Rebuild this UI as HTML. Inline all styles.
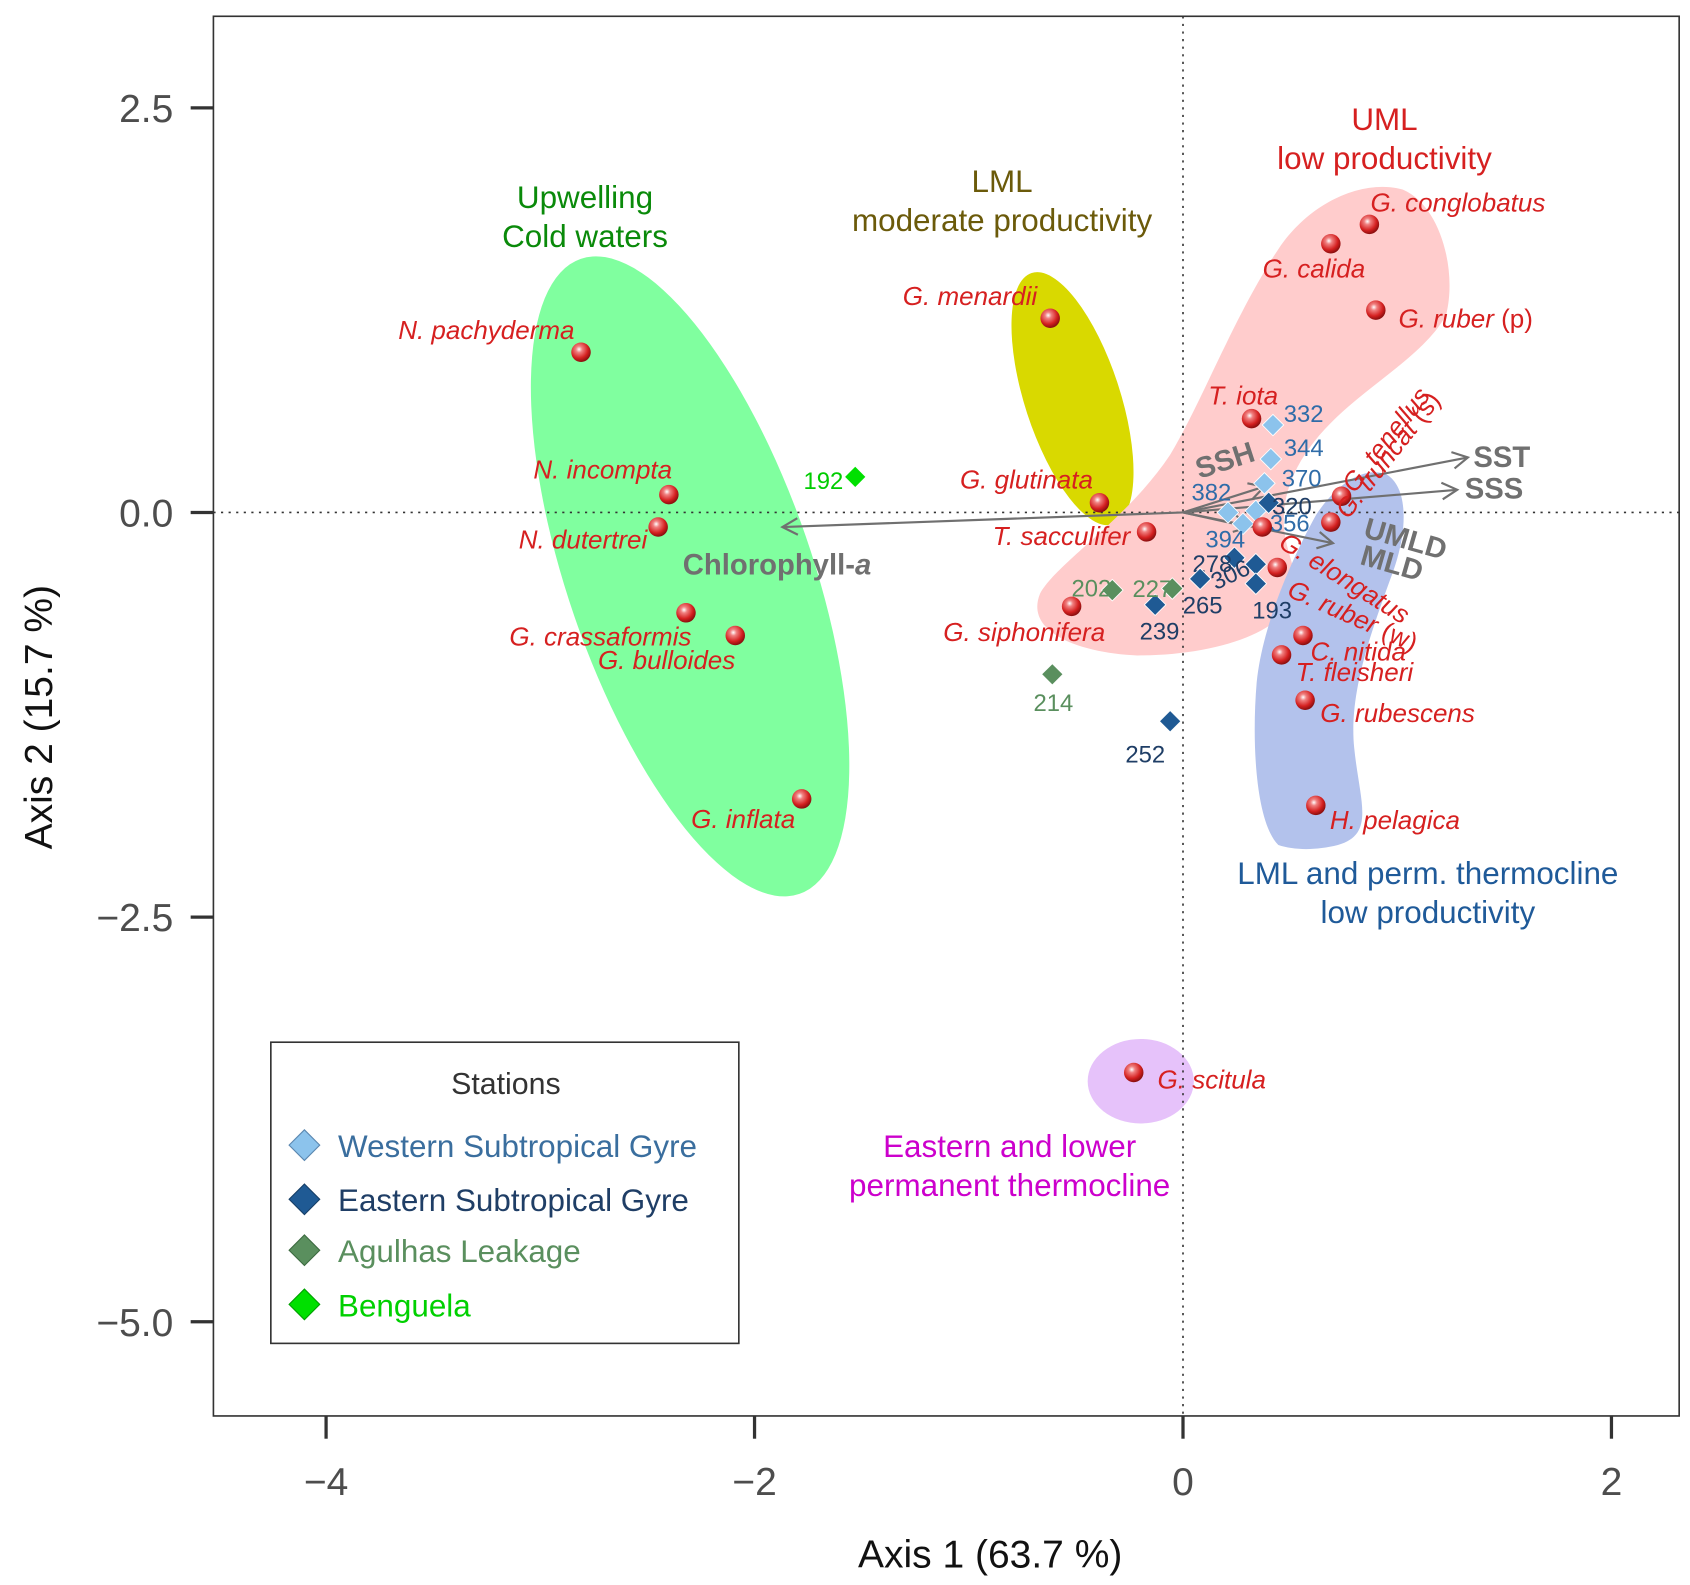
<!DOCTYPE html>
<html><head><meta charset="utf-8"><style>
html,body{margin:0;padding:0;background:#fff}
svg{display:block;font-family:"Liberation Sans",sans-serif}
</style></head><body>
<svg id="chart" width="1690" height="1585" viewBox="0 0 1560 1463" xmlns="http://www.w3.org/2000/svg">
<defs>
<radialGradient id="sph" cx="0.4" cy="0.35" r="0.65">
<stop offset="0" stop-color="#ffffff"/><stop offset="0.25" stop-color="#f08080"/><stop offset="0.7" stop-color="#d42020"/><stop offset="1" stop-color="#8a0f0f"/>
</radialGradient>
</defs>
<g id="regions">
<ellipse cx="637" cy="532" rx="113" ry="310" transform="rotate(-19 637 532)" fill="#80ff9f"/>
<ellipse cx="990" cy="368" rx="44" ry="122" transform="rotate(-18 990 368)" fill="#d9d900"/>
<ellipse cx="1053" cy="998" rx="49" ry="39" fill="#e6c2fa"/>
<path fill="#ffcccc" d="M960,548 C975,520 1040,480 1080,420 C1110,370 1140,290 1180,230 C1210,185 1260,165 1295,175 C1330,190 1345,250 1335,290 C1320,320 1280,345 1245,375 C1210,405 1185,440 1185,480 C1185,515 1205,530 1190,560 C1170,590 1110,605 1050,605 C1000,603 945,585 960,548 Z"/>
<path fill="#b3c2ec" d="M1180,780 C1160,760 1155,690 1160,630 C1165,580 1190,520 1215,475 C1235,445 1260,430 1280,438 C1300,450 1300,490 1285,530 C1265,585 1245,640 1250,690 C1255,740 1270,770 1235,780 C1215,785 1195,785 1180,780 Z"/>
</g>
<rect x="197" y="15" width="1353" height="1292" fill="none" stroke="#333" stroke-width="1.5"/>
<g id="axes"></g>
<g id="arrows"></g>
<g id="stations"></g>
<g id="species"></g>
<g font-size="29" text-anchor="middle">
<text x="540" y="192" fill="#0a8a0a">Upwelling</text>
<text x="540" y="228" fill="#0a8a0a">Cold waters</text>
<text x="925" y="177" fill="#6b5a0a">LML</text>
<text x="925" y="213" fill="#6b5a0a">moderate productivity</text>
<text x="1278" y="120" fill="#d62020">UML</text>
<text x="1278" y="156" fill="#d62020">low productivity</text>
<text x="1318" y="816" fill="#1f5a99">LML and perm. thermocline</text>
<text x="1318" y="852" fill="#1f5a99">low productivity</text>
<text x="932" y="1068" fill="#cc00cc">Eastern and lower</text>
<text x="932" y="1104" fill="#cc00cc">permanent thermocline</text>
</g>
<g>
<rect x="250" y="962" width="432" height="278" fill="#fff" stroke="#333" stroke-width="1.5"/>
<text x="467" y="1010" font-size="28" fill="#333" text-anchor="middle">Stations</text>
<g><rect x="271" y="1047" width="20" height="20" transform="rotate(45 281 1057)" fill="#8cc3ec" stroke="#5a87b0"/><text x="312" y="1068" font-size="29" fill="#3a6e9e">Western Subtropical Gyre</text></g>
<g><rect x="271" y="1097" width="20" height="20" transform="rotate(45 281 1107)" fill="#1f5a94" stroke="#163e66"/><text x="312" y="1118" font-size="29" fill="#1f3e66">Eastern Subtropical Gyre</text></g>
<g><rect x="271" y="1144" width="20" height="20" transform="rotate(45 281 1154)" fill="#5a8f5e" stroke="#3c6a40"/><text x="312" y="1165" font-size="29" fill="#5a8f5e">Agulhas Leakage</text></g>
<g><rect x="271" y="1194" width="20" height="20" transform="rotate(45 281 1204)" fill="#00e000" stroke="#00a000"/><text x="312" y="1215" font-size="29" fill="#00d000">Benguela</text></g>
</g>
<text x="914" y="1447" font-size="36" text-anchor="middle" fill="#111">Axis 1 (63.7 %)</text>
<text transform="translate(48 662) rotate(-90)" font-size="36" text-anchor="middle" fill="#111">Axis 2 (15.7 %)</text>
</svg>
<script>
const xTicks=[-4,-2,0,2];
const yTicks=[2.5,0,-2.5,-5];
const yTickLabels=["2.5","0.0","\u22122.5","\u22125.0"];
const xTickLabels=["\u22124","\u22122","0","2"];
const speciesNames=["N. pachyderma","N. incompta","N. dutertrei","G. crassaformis","G. bulloides","G. inflata","G. menardii","G. glutinata","T. sacculifer","G. siphonifera","G. scitula","G. conglobatus","G. calida","G. ruber (p)","T. iota","G. tenellus","G. truncat (s)","G. elongatus","G. ruber (w)","C. nitida","T. fleisheri","G. rubescens","H. pelagica"];
const speciesX=[-2.81,-2.40,-2.45,-2.32,-2.09,-1.78,-0.62,-0.39,-0.17,-0.52,-0.23,0.87,0.69,0.90,0.32,0.74,0.69,0.37,0.44,0.56,0.46,0.57,0.62];
const speciesY=[0.99,0.11,-0.09,-0.62,-0.76,-1.77,1.20,0.06,-0.12,-0.58,-3.46,1.78,1.66,1.25,0.58,0.10,-0.06,-0.09,-0.34,-0.76,-0.88,-1.16,-1.81];
const stationIds=["332","344","370","382","356","394","320","278","306","193","265","239","252","202","227","214","192"];
const stationGroup=["w","w","w","w","w","w","e","e","e","e","e","e","e","a","a","a","b"];
const stationX=[0.42,0.41,0.38,0.21,0.34,0.28,0.40,0.24,0.34,0.34,0.08,-0.13,-0.06,-0.33,-0.05,-0.61,-1.53];
const stationY=[0.54,0.33,0.18,0.00,0.01,-0.07,0.06,-0.28,-0.32,-0.44,-0.41,-0.57,-1.29,-0.48,-0.47,-1.00,0.22];
const varNames=["SST","SSS","SSH","UMLD","MLD","Chlorophyll-a"];
const varX=[1.33,1.28,0.38,0.70,0.31,-1.87];
const varY=[0.34,0.14,0.16,-0.19,-0.09,-0.09];

const sx=v=>1092+197.75*v, sy=v=>473-149.4*v;
const NS="http://www.w3.org/2000/svg";
function mk(tag,attrs,parent,txt){const e=document.createElementNS(NS,tag);for(const k in attrs)e.setAttribute(k,attrs[k]);if(txt!==undefined)e.textContent=txt;parent.appendChild(e);return e;}
const axes=document.getElementById('axes');
mk('line',{x1:197,x2:1550,y1:sy(0),y2:sy(0),stroke:'#333','stroke-width':1.5,'stroke-dasharray':'2 5'},axes);
mk('line',{x1:sx(0),x2:sx(0),y1:15,y2:1307,stroke:'#333','stroke-width':1.5,'stroke-dasharray':'2 5'},axes);
xTicks.forEach((t,i)=>{
 const l=mk('line',{x1:sx(t),x2:sx(t),y1:1307,y2:1328,stroke:'#333','stroke-width':3},axes);
 
 
 const tx=mk('text',{x:sx(t),y:1380,'font-size':36,'text-anchor':'middle',fill:'#4d4d4d'},axes,xTickLabels[i]);
 
 
});
yTicks.forEach((t,i)=>{
 const l=mk('line',{x1:176,x2:197,y1:sy(t),y2:sy(t),stroke:'#333','stroke-width':3},axes);
 
 
 const tx=mk('text',{x:160,y:sy(t)+13,'font-size':36,'text-anchor':'end',fill:'#4d4d4d'},axes,yTickLabels[i]);
 
 
});
const arrows=document.getElementById('arrows');
const varLab={"SST":[5,9,0],"SSS":[7,8,0],"SSH":[-60,-7,-18],"UMLD":[27,-6,16],"MLD":[101,34,16],"Chlorophyll-a":[-92,44,0]};
varNames.forEach((n,i)=>{
 const x2=sx(varX[i]),y2=sy(varY[i]),x1=sx(0),y1=sy(0);
 const a=Math.atan2(y2-y1,x2-x1),h=16;
 const g=mk('g',{},arrows);
 
 
 mk('line',{x1,y1,x2,y2,stroke:'#707070','stroke-width':2},g);
 mk('polyline',{points:`${x2-h*Math.cos(a-0.5)},${y2-h*Math.sin(a-0.5)} ${x2},${y2} ${x2-h*Math.cos(a+0.5)},${y2-h*Math.sin(a+0.5)}`,fill:'none',stroke:'#707070','stroke-width':2},g);
 const o=varLab[n];
 const t=mk('text',{x:x2+o[0],y:y2+o[1],'font-size':27,'font-weight':'bold',fill:'#707070',transform:`rotate(${o[2]} ${x2+o[0]} ${y2+o[1]})`},g);
 if(n==="Chlorophyll-a"){t.textContent="Chlorophyll-";mk('tspan',{'font-style':'italic'},t,'a');}else t.textContent=n;
});
const st=document.getElementById('stations');
const sFill={w:'#8cc3ec',e:'#1f5a94',a:'#5a8f5e',b:'#00e000'};
const sText={w:'#2f6ca8',e:'#1f3e66',a:'#5a8f5e',b:'#00cc00'};
const sOff={"332":[10,-3,'start',0],"344":[12,-3,'start',0],"370":[16,3,'start',0],"382":[3,-11,'end',0],"356":[13,19,'start',0],"394":[2,22,'end',0],"320":[3,11,'start',0],"278":[-2,13,'end',0],"306":[-37,24,'start',-25],"193":[15,32,'middle',0],"265":[-16,32,'start',0],"239":[4,32,'middle',0],"252":[-23,38,'middle',0],"202":[-1,6,'end',0],"227":[0,8,'end',0],"214":[1,34,'middle',0],"192":[-11,11,'end',0]};
stationIds.forEach((id,i)=>{
 const x=sx(stationX[i]),y=sy(stationY[i]),g=stationGroup[i];
 const d=mk('rect',{x:x-7,y:y-7,width:14,height:14,transform:`rotate(45 ${x} ${y})`,fill:sFill[g],stroke:'#ffffff','stroke-width':0.8},st);
 
 
 const o=sOff[id];
 const t=mk('text',{x:x+o[0],y:y+o[1],'font-size':22,fill:sText[g],'text-anchor':o[2],transform:`rotate(${o[3]} ${x+o[0]} ${y+o[1]})`},st,id);
 
 
});
const sp=document.getElementById('species');
const lab={"N. pachyderma":[-6,-12,0,'end'],"N. incompta":[3,-15,0,'end'],"N. dutertrei":[-10,20,0,'end'],"G. crassaformis":[5,30,0,'end'],"G. bulloides":[0,31,0,'end'],"G. inflata":[-6,27,0,'end'],"G. menardii":[-12,-12,0,'end'],"G. glutinata":[-6,-13,0,'end'],"T. sacculifer":[-15,12,0,'end'],"G. siphonifera":[31,32,0,'end'],"G. scitula":[22,15,0,'start'],"G. conglobatus":[1,-12,0,'start'],"G. calida":[-63,31,0,'start'],"G. ruber (p)":[21,16,0,'start'],"T. iota":[-40,-13,0,'start'],"G. tenellus":[12,-2,-52,'start'],"G. truncat (s)":[16,-2,-52,'start'],"G. elongatus":[14,18,32,'start'],"G. ruber (w)":[8,26,24,'start'],"C. nitida":[7,23,0,'start'],"T. fleisheri":[13,24,0,'start'],"G. rubescens":[14,20,0,'start'],"H. pelagica":[13,22,0,'start']};
speciesNames.forEach((n,i)=>{
 const x=sx(speciesX[i]),y=sy(speciesY[i]);
 const c=mk('circle',{cx:x,cy:y,r:9,fill:'url(#sph)'},sp);
 
 
 const o=lab[n];
 const t=mk('text',{x:x+o[0],y:y+o[1],'font-size':24,'font-style':'italic',fill:'#d62020','text-anchor':o[3],transform:`rotate(${o[2]} ${x+o[0]} ${y+o[1]})`},sp);
 
 
 const m=n.match(/^(.*?)( \((p|s|w)\))$/);
 if(m){t.textContent=m[1];mk('tspan',{'font-style':'normal'},t,m[2]);}else t.textContent=n;
});
</script>
</body></html>
